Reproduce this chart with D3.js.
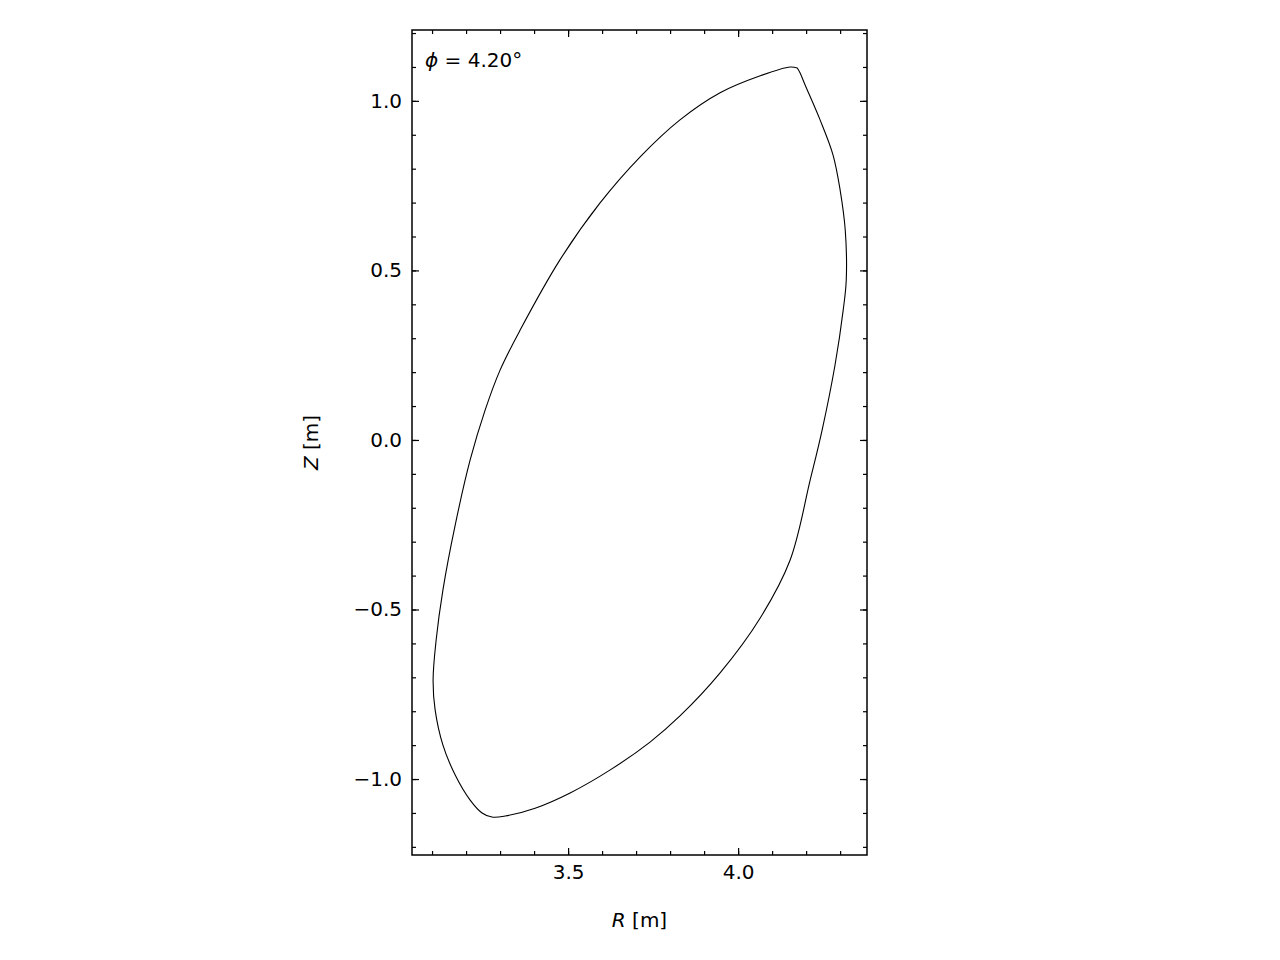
<!DOCTYPE html>
<html>
<head>
<meta charset="utf-8">
<script src="https://cdn.jsdelivr.net/npm/d3@7"></script>
<style>
  body { margin: 0; background: white; }
  text { font-family: "DejaVu Sans", sans-serif; fill: black; }
</style>
</head>
<body>
<svg id="chart" width="1280" height="960"></svg>
<script>
// Boundary contour (R, Z) in metres
const R = [4.174, 4.153, 4.065, 3.947, 3.829, 3.712, 3.594, 3.476, 3.359, 3.300, 3.256, 3.212, 3.168, 3.132,
  3.112, 3.103, 3.109, 3.132, 3.168, 3.212, 3.247, 3.276, 3.315, 3.403, 3.506, 3.624, 3.741, 3.829, 3.947,
  4.065, 4.153, 4.212, 4.247, 4.285, 4.309, 4.318, 4.315, 4.300, 4.279, 4.241, 4.197, 4.182, 4.174];
const Z = [1.097, 1.100, 1.074, 1.024, 0.944, 0.835, 0.699, 0.531, 0.324, 0.206, 0.088, -0.059, -0.251, -0.442,
  -0.590, -0.708, -0.796, -0.900, -0.988, -1.062, -1.100, -1.112, -1.109, -1.086, -1.041, -0.973, -0.891, -0.814, -0.687,
  -0.525, -0.354, -0.118, 0.029, 0.221, 0.383, 0.472, 0.619, 0.737, 0.841, 0.944, 1.047, 1.083, 1.097];
const xTicks = [3.5, 4.0];
const yTicks = [-1.0, -0.5, 0.0, 0.5, 1.0];
const phiLabel = "4.20°";

const svg = d3.select("#chart");
const pLeft = 412, pRight = 867, pTop = 30, pBottom = 855;

const x = d3.scaleLinear().domain([3.041, 4.379]).range([pLeft, pRight]);
const y = d3.scaleLinear().domain([-1.224, 1.209]).range([pBottom, pTop]);

const xMinor = d3.range(3.1, 4.38, 0.1).map(v => +v.toFixed(2));
const yMinor = d3.range(-1.2, 1.21, 0.1).map(v => +v.toFixed(2));
const fmt = v => d3.format(".1f")(v).replace("-", "\u2212");

function axis(gen, pos, scale, major, minor, showLabels) {
  const g = svg.append("g").attr("transform", pos);
  g.call(gen(scale).tickValues(minor).tickSize(-4).tickFormat(""));
  const m = svg.append("g").attr("transform", pos)
    .call(gen(scale).tickValues(major).tickSize(-7).tickPadding(10)
      .tickFormat(showLabels ? fmt : ""));
  [g, m].forEach(s => {
    s.select(".domain").remove();
    s.selectAll("line").attr("stroke", "black").attr("stroke-width", 1.2);
  });
  m.selectAll("text").style("font-size", "20px").attr("font-family", "DejaVu Sans");
}
axis(d3.axisBottom, `translate(0,${pBottom})`, x, xTicks, xMinor, true);
axis(d3.axisTop, `translate(0,${pTop})`, x, xTicks, xMinor, false);
axis(d3.axisLeft, `translate(${pLeft},0)`, y, yTicks, yMinor, true);
axis(d3.axisRight, `translate(${pRight},0)`, y, yTicks, yMinor, false);

svg.append("rect").attr("x", pLeft).attr("y", pTop)
  .attr("width", pRight - pLeft).attr("height", pBottom - pTop)
  .attr("fill", "none").attr("stroke", "black").attr("stroke-width", 1.5);

const pts = R.map((r, i) => [r, Z[i]]);
svg.append("path").datum(pts)
  .attr("fill", "none").attr("stroke", "black").attr("stroke-width", 1.1)
  .attr("d", d3.line().x(d => x(d[0])).y(d => y(d[1])).curve(d3.curveCatmullRomClosed));

// labels
svg.append("text").attr("x", (pLeft + pRight) / 2).attr("y", 927)
  .attr("text-anchor", "middle").style("font-size", "20px")
  .html('<tspan font-style="italic">R</tspan> [m]');
svg.append("text").attr("transform", `translate(318,${(pTop + pBottom) / 2}) rotate(-90)`)
  .attr("text-anchor", "middle").style("font-size", "20px")
  .html('<tspan font-style="italic">Z</tspan> [m]');
svg.append("text").attr("x", 425).attr("y", 67).style("font-size", "20px")
  .html(`<tspan font-style="italic">ϕ</tspan> = ${phiLabel}`);
</script>
</body>
</html>
